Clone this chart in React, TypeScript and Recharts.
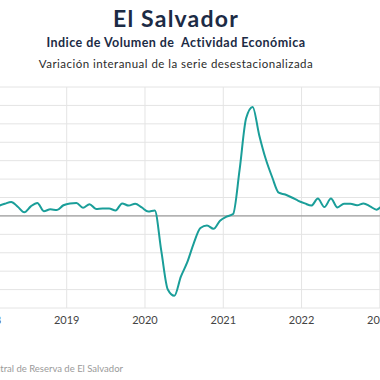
import React from "react";
import { LineChart, Line, XAxis, YAxis, CartesianGrid, ReferenceLine } from "recharts";

const months = [
  "2018-01","2018-02","2018-03","2018-04","2018-05","2018-06","2018-07","2018-08","2018-09","2018-10","2018-11","2018-12",
  "2019-01","2019-02","2019-03","2019-04","2019-05","2019-06","2019-07","2019-08","2019-09","2019-10","2019-11","2019-12",
  "2020-01","2020-02","2020-03","2020-04","2020-05","2020-06","2020-07","2020-08","2020-09","2020-10","2020-11","2020-12",
  "2021-01","2021-02","2021-03","2021-04","2021-05","2021-06","2021-07","2021-08","2021-09","2021-10","2021-11","2021-12",
  "2022-01","2022-02","2022-03","2022-04","2022-05","2022-06","2022-07","2022-08","2022-09","2022-10","2022-11","2022-12",
  "2023-01","2023-02",
];

const ivae = [
  2.0, 2.7, 3.3, 3.8, 2.5, 1.0, 2.6, 3.5, 1.3, 1.8, 1.6, 2.9,
  3.4, 3.5, 2.2, 3.2, 1.9, 2.0, 2.0, 1.5, 3.4, 2.8, 3.3, 2.3,
  1.2, 1.5, -9.5, -20.0, -21.7, -16.5, -12.5, -7.3, -3.3, -2.6, -3.5, -1.3,
  -0.2, 0.5, 12.5, 26.5, 29.6, 22.0, 15.5, 10.5, 6.3, 5.8, 5.0, 4.1,
  3.4, 2.8, 4.7, 2.4, 4.7, 2.3, 3.3, 3.3, 2.9, 3.4, 2.6, 1.7,
  2.8, 3.0,
];

const yearTicks = [2018, 2019, 2020, 2021, 2022, 2023];
const valueTicks = [-25, -20, -15, -10, -5, 0, 5, 10, 15, 20, 25, 30, 35];

const title = "El Salvador";
const subtitle = "Indice de Volumen de  Actividad Económica";
const subtitle2 = "Variación interanual de la serie desestacionalizada";
const source = "Fuente: Banco Central de Reserva de El Salvador";

const data = months.map((m, i) => {
  const [y, mo] = m.split("-").map(Number);
  return { t: y + (mo - 0.5) / 12, v: ivae[i] };
});

export default function App() {
  return (
    <div
      style={{
        position: "absolute",
        left: 0,
        top: 0,
        width: 380,
        height: 380,
        overflow: "hidden",
        background: "#fff",
        fontFamily: "Lato, 'Noto Sans', sans-serif",
      }}
    >
      <div
        style={{
          position: "absolute",
          left: 0,
          width: 352,
          top: 4,
          textAlign: "center",
          fontSize: 23,
          fontWeight: 700,
          letterSpacing: 1.2,
          color: "#1c2b45",
          whiteSpace: "pre",
        }}
      >
        {title}
      </div>
      <div
        style={{
          position: "absolute",
          left: 0,
          width: 352,
          top: 35,
          textAlign: "center",
          fontSize: 12.5,
          fontWeight: 700,
          letterSpacing: 0.45,
          color: "#1c2b45",
          whiteSpace: "pre",
        }}
      >
        {subtitle}
      </div>
      <div
        style={{
          position: "absolute",
          left: 0,
          width: 352,
          top: 57,
          textAlign: "center",
          fontSize: 11.5,
          letterSpacing: 0.47,
          color: "#2a2a2a",
          whiteSpace: "pre",
        }}
      >
        {subtitle2}
      </div>
      <div
        style={{
          position: "absolute",
          left: -200,
          width: 323,
          top: 363,
          textAlign: "right",
          fontSize: 9.5,
          color: "#9a9a9a",
          whiteSpace: "pre",
        }}
      >
        {source}
      </div>
      <div style={{ position: "absolute", left: -30, top: 0 }}>
        <LineChart
          width={460}
          height={380}
          data={data}
          margin={{ top: 87, right: 11, bottom: 42, left: 18.4 }}
        >
          <CartesianGrid stroke="#e4e4e4" strokeWidth={1} />
          <XAxis
            dataKey="t"
            type="number"
            domain={[2018, 2023.5]}
            ticks={yearTicks}
            allowDataOverflow
            axisLine={false}
            tickLine={false}
            tickSize={6}
            tick={{ fill: "#444", fontSize: 11 }}
            tickFormatter={(v: number) => String(v)}
            interval={0}
          />
          <YAxis hide domain={[-25, 35]} ticks={valueTicks} type="number" interval={0} />
          <ReferenceLine y={0} stroke="#8a8a8a" strokeWidth={1} />
          <Line
            dataKey="v"
            type="monotone"
            stroke="#1a9e99"
            strokeWidth={2}
            dot={false}
            isAnimationActive={false}
          />
        </LineChart>
      </div>
    </div>
  );
}
